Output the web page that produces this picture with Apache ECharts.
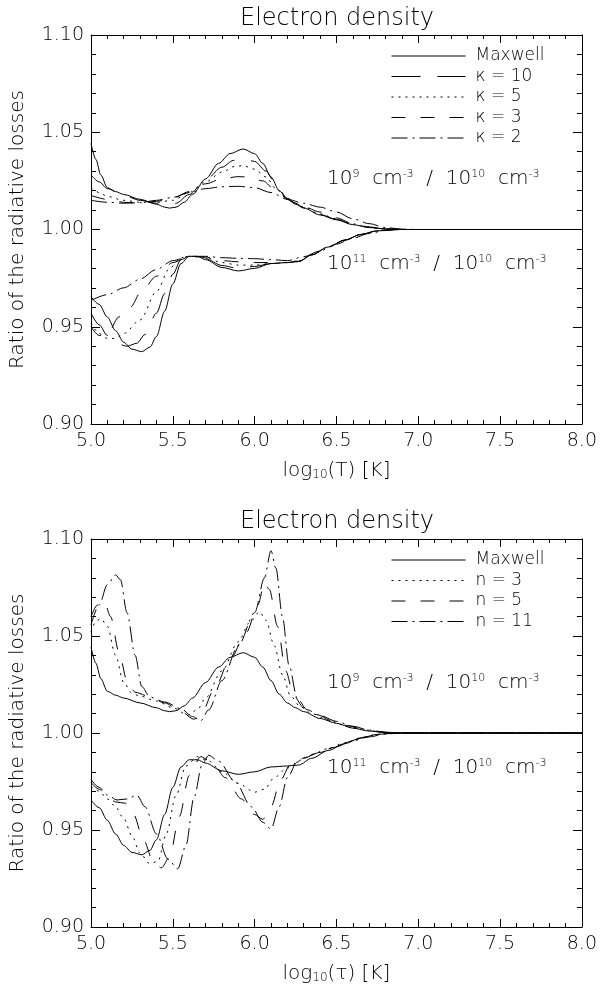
<!DOCTYPE html>
<html><head><meta charset="utf-8">
<script src="https://cdn.jsdelivr.net/npm/echarts@6/dist/echarts.min.js"></script>
<style>html,body{margin:0;padding:0;background:#fff}#c{width:600px;height:991px}</style>
</head><body><div id="c"></div>
<script>
// ---------------- DATA ----------------
const xRange = [5.0, 8.0];
const yRange = [0.90, 1.10];
const topTitle = 'Electron density';
const bottomTitle = 'Electron density';
const topLegend = ['Maxwell', 'κ = 10', 'κ = 5', 'κ = 3', 'κ = 2'];
const bottomLegend = ['Maxwell', 'n = 3', 'n = 5', 'n = 11'];

// Maxwell (same in both panels)
const maxwellHi = [[5.00,1.0443],[5.03,1.036],[5.06,1.028],[5.10,1.0215],[5.15,1.0195],[5.20,1.018],[5.30,1.0155],[5.40,1.013],[5.45,1.0115],[5.48,1.011],[5.52,1.0115],[5.57,1.014],[5.62,1.018],[5.70,1.026],[5.78,1.034],[5.85,1.039],[5.93,1.0414],[6.00,1.039],[6.05,1.034],[6.10,1.027],[6.15,1.020],[6.20,1.0155],[6.25,1.013],[6.30,1.011],[6.40,1.0075],[6.50,1.005],[6.60,1.0025],[6.70,1.001],[6.80,1.0003],[6.90,1.0],[8.00,1.0]];
const maxwellLo = [[5.00,0.9655],[5.05,0.9615],[5.10,0.955],[5.15,0.948],[5.20,0.942],[5.25,0.9385],[5.31,0.9372],[5.36,0.9395],[5.40,0.945],[5.45,0.958],[5.50,0.972],[5.55,0.9825],[5.60,0.9862],[5.65,0.9862],[5.70,0.9845],[5.80,0.9805],[5.90,0.9787],[6.00,0.980],[6.10,0.9825],[6.20,0.983],[6.27,0.9835],[6.35,0.987],[6.45,0.991],[6.55,0.9945],[6.65,0.9975],[6.75,0.9993],[6.85,1.0],[8.00,1.0]];

// Top panel: kappa distributions
const k10Hi = [[5.00,1.028],[5.05,1.0245],[5.10,1.021],[5.20,1.0175],[5.30,1.015],[5.40,1.0135],[5.47,1.013],[5.52,1.0135],[5.60,1.018],[5.70,1.0255],[5.80,1.032],[5.87,1.0355],[5.93,1.0366],[6.00,1.035],[6.07,1.030],[6.13,1.023],[6.20,1.016],[6.25,1.0135],[6.30,1.0112],[6.40,1.0077],[6.50,1.0052],[6.60,1.0027],[6.70,1.0011],[6.80,1.0003],[6.90,1.0],[8.00,1.0]];
const k5Hi = [[5.00,1.0215],[5.05,1.019],[5.10,1.017],[5.20,1.015],[5.30,1.014],[5.40,1.014],[5.50,1.015],[5.60,1.019],[5.70,1.0245],[5.80,1.0295],[5.88,1.0325],[5.93,1.0328],[6.00,1.031],[6.07,1.027],[6.13,1.021],[6.20,1.0155],[6.25,1.0135],[6.30,1.0115],[6.40,1.008],[6.50,1.0055],[6.60,1.0029],[6.70,1.0012],[6.80,1.0003],[6.90,1.0],[8.00,1.0]];
const k3Hi = [[5.00,1.0175],[5.10,1.0155],[5.20,1.014],[5.30,1.0135],[5.40,1.0145],[5.50,1.016],[5.60,1.0195],[5.70,1.0235],[5.80,1.026],[5.90,1.0272],[5.95,1.027],[6.05,1.025],[6.13,1.020],[6.20,1.016],[6.25,1.0135],[6.30,1.0117],[6.40,1.009],[6.50,1.006],[6.60,1.003],[6.70,1.0013],[6.80,1.0004],[6.90,1.0],[8.00,1.0]];
const k2Hi = [[5.00,1.0150],[5.10,1.014],[5.20,1.0135],[5.30,1.0138],[5.40,1.015],[5.50,1.0165],[5.60,1.019],[5.70,1.021],[5.80,1.022],[5.90,1.0222],[6.00,1.0215],[6.10,1.019],[6.20,1.0155],[6.30,1.0135],[6.40,1.0115],[6.50,1.009],[6.60,1.0055],[6.70,1.003],[6.80,1.001],[6.90,1.0002],[7.00,1.0],[8.00,1.0]];

const k10Lo = [[5.00,0.957],[5.05,0.951],[5.10,0.9455],[5.15,0.9415],[5.22,0.9400],[5.28,0.9415],[5.33,0.946],[5.40,0.957],[5.45,0.967],[5.50,0.977],[5.55,0.9845],[5.60,0.9862],[5.70,0.985],[5.80,0.9815],[5.90,0.9800],[6.00,0.981],[6.10,0.9825],[6.20,0.983],[6.27,0.9837],[6.35,0.987],[6.45,0.991],[6.55,0.9945],[6.65,0.9975],[6.75,0.9993],[6.85,1.0],[8.00,1.0]];
const k5Lo = [[5.00,0.952],[5.05,0.9465],[5.10,0.9440],[5.15,0.9440],[5.20,0.9465],[5.30,0.9535],[5.40,0.968],[5.48,0.980],[5.55,0.9855],[5.60,0.9862],[5.70,0.9855],[5.80,0.983],[5.90,0.9817],[6.00,0.9817],[6.10,0.9825],[6.20,0.983],[6.27,0.9838],[6.35,0.987],[6.45,0.991],[6.55,0.9945],[6.65,0.9975],[6.75,0.9993],[6.85,1.0],[8.00,1.0]];
const k3Lo = [[5.00,0.9500],[5.05,0.9455],[5.10,0.9460],[5.17,0.9550],[5.24,0.9600],[5.31,0.9685],[5.40,0.976],[5.50,0.983],[5.60,0.9862],[5.70,0.9858],[5.80,0.984],[5.90,0.9834],[6.00,0.983],[6.10,0.983],[6.20,0.983],[6.27,0.984],[6.35,0.987],[6.45,0.991],[6.55,0.9945],[6.65,0.9975],[6.75,0.9993],[6.85,1.0],[8.00,1.0]];
const k2Lo = [[5.00,0.9635],[5.10,0.9665],[5.20,0.9700],[5.30,0.9745],[5.40,0.9795],[5.50,0.9840],[5.60,0.9862],[5.70,0.9862],[5.80,0.9855],[5.90,0.9852],[6.00,0.985],[6.10,0.9845],[6.20,0.984],[6.30,0.986],[6.40,0.989],[6.50,0.9925],[6.60,0.9955],[6.70,0.998],[6.80,0.9995],[6.90,1.0],[8.00,1.0]];

// Bottom panel: n distributions
const n3Hi = [[5.00,1.0520],[5.03,1.0575],[5.06,1.059],[5.10,1.055],[5.15,1.040],[5.20,1.026],[5.25,1.0205],[5.30,1.019],[5.40,1.0165],[5.50,1.013],[5.59,1.0093],[5.65,1.012],[5.70,1.018],[5.80,1.032],[5.90,1.047],[5.97,1.057],[6.03,1.0625],[6.07,1.058],[6.12,1.045],[6.17,1.030],[6.22,1.019],[6.28,1.0135],[6.35,1.010],[6.45,1.0065],[6.55,1.004],[6.65,1.002],[6.75,1.0007],[6.85,1.0],[8.00,1.0]];
const n5Hi = [[5.00,1.0600],[5.04,1.0660],[5.08,1.0680],[5.12,1.060],[5.17,1.042],[5.22,1.027],[5.27,1.021],[5.35,1.019],[5.45,1.0155],[5.55,1.011],[5.63,1.0071],[5.68,1.011],[5.75,1.022],[5.85,1.038],[5.95,1.052],[6.02,1.066],[6.06,1.0775],[6.09,1.074],[6.14,1.055],[6.19,1.032],[6.24,1.019],[6.30,1.013],[6.38,1.0095],[6.48,1.006],[6.58,1.0035],[6.68,1.0015],[6.78,1.0004],[6.88,1.0],[8.00,1.0]];
const n11Hi = [[5.00,1.0557],[5.05,1.066],[5.10,1.0765],[5.15,1.0815],[5.18,1.079],[5.22,1.062],[5.27,1.040],[5.31,1.024],[5.36,1.0185],[5.45,1.016],[5.55,1.0125],[5.62,1.0085],[5.67,1.0062],[5.72,1.012],[5.80,1.027],[5.90,1.045],[6.00,1.062],[6.06,1.080],[6.10,1.094],[6.13,1.085],[6.17,1.060],[6.21,1.035],[6.26,1.018],[6.32,1.012],[6.40,1.009],[6.50,1.006],[6.60,1.0035],[6.70,1.0015],[6.80,1.0004],[6.90,1.0],[8.00,1.0]];

const n3Lo = [[5.00,0.9725],[5.05,0.970],[5.10,0.966],[5.15,0.962],[5.20,0.956],[5.25,0.947],[5.30,0.938],[5.36,0.9325],[5.41,0.934],[5.46,0.948],[5.52,0.968],[5.58,0.983],[5.65,0.9878],[5.72,0.9855],[5.80,0.980],[5.90,0.974],[6.00,0.9695],[6.06,0.971],[6.12,0.977],[6.20,0.982],[6.28,0.986],[6.35,0.989],[6.45,0.992],[6.55,0.995],[6.65,0.9975],[6.75,0.9993],[6.85,1.0],[8.00,1.0]];
const n5Lo = [[5.00,0.9745],[5.05,0.971],[5.10,0.967],[5.15,0.9645],[5.21,0.9638],[5.26,0.958],[5.32,0.945],[5.38,0.934],[5.43,0.9305],[5.48,0.936],[5.54,0.957],[5.60,0.978],[5.67,0.9878],[5.74,0.985],[5.82,0.977],[5.92,0.966],[6.00,0.958],[6.05,0.9555],[6.10,0.962],[6.16,0.976],[6.22,0.984],[6.30,0.987],[6.38,0.9895],[6.48,0.9925],[6.58,0.9955],[6.68,0.998],[6.78,0.9995],[6.88,1.0],[8.00,1.0]];
const n11Lo = [[5.00,0.9760],[5.05,0.972],[5.10,0.968],[5.16,0.9655],[5.22,0.966],[5.28,0.968],[5.33,0.962],[5.40,0.948],[5.47,0.935],[5.53,0.930],[5.58,0.942],[5.63,0.967],[5.68,0.984],[5.72,0.9885],[5.78,0.9855],[5.88,0.975],[5.98,0.962],[6.05,0.954],[6.10,0.9505],[6.15,0.962],[6.20,0.977],[6.26,0.985],[6.32,0.988],[6.40,0.990],[6.50,0.993],[6.60,0.996],[6.70,0.998],[6.80,0.9995],[6.90,1.0],[8.00,1.0]];

// ---------------- STYLE ----------------
const FONT = 'DejaVu Sans';
const FW = 200;
const DASH = {
  solid: 'solid',
  longDash: [29, 17],
  dot: [2, 5],
  dash: [14, 15],
  dashDot: [16, 5, 2, 5]
};

const chart = echarts.init(document.getElementById('c'), null, {renderer: 'canvas'});

const grids = [
  {left: 89, top: 35, width: 494, height: 389},
  {left: 89, top: 539, width: 494, height: 388}
];

function xAxes(gi, name) {
  const base = {
    type: 'value', gridIndex: gi, min: xRange[0], max: xRange[1], interval: 0.5,
    axisLine: {show: true, onZero: false, lineStyle: {color: '#000', width: 1}},
    axisTick: {show: true, inside: true, length: 8, lineStyle: {color: '#000', width: 1}},
    minorTick: {show: true, splitNumber: 5, length: 4, lineStyle: {color: '#000', width: 1}},
    splitLine: {show: false}, minorSplitLine: {show: false}
  };
  return [
    Object.assign({}, base, {
      position: 'bottom',
      axisLabel: {color: '#000', fontSize: 19, fontFamily: FONT, fontWeight: FW, margin: 8,
        formatter: v => v.toFixed(1)},
      name: name, nameLocation: 'middle', nameGap: 37,
      nameTextStyle: {color: '#000', fontSize: 20, fontFamily: FONT, fontWeight: FW,
        rich: {sub: {fontSize: 12, fontFamily: FONT, fontWeight: FW, color: '#000', verticalAlign: 'bottom', padding: [7, 0, 0, 0]}}}
    }),
    Object.assign({}, base, {position: 'top', axisLabel: {show: false}})
  ];
}
function yAxes(gi) {
  const base = {
    type: 'value', gridIndex: gi, min: yRange[0], max: yRange[1], interval: 0.05,
    axisLine: {show: true, onZero: false, lineStyle: {color: '#000', width: 1}},
    axisTick: {show: true, inside: true, length: 9, lineStyle: {color: '#000', width: 1}},
    minorTick: {show: true, splitNumber: 5, length: 5, lineStyle: {color: '#000', width: 1}},
    splitLine: {show: false}, minorSplitLine: {show: false}
  };
  return [
    Object.assign({}, base, {
      position: 'left',
      axisLabel: {color: '#000', fontSize: 19, fontFamily: FONT, fontWeight: FW, margin: 7,
        formatter: v => v.toFixed(2)},
      name: 'Ratio of the radiative losses', nameLocation: 'middle', nameGap: 63,
      nameTextStyle: {color: '#000', fontSize: 20, fontFamily: FONT, fontWeight: FW}
    }),
    Object.assign({}, base, {position: 'right', axisLabel: {show: false}})
  ];
}

function ser(name, data, type, xi, yi) {
  return {
    type: 'line', name: name, data: data, xAxisIndex: xi, yAxisIndex: yi,
    symbol: 'none', smooth: 0.3, smoothMonotone: 'x', animation: false, silent: true,
    lineStyle: {color: '#000', width: 1, type: type}, itemStyle: {color: '#000'}
  };
}

const series = [
  ser(topLegend[0], maxwellHi, DASH.solid, 0, 0),
  ser(topLegend[0], maxwellLo, DASH.solid, 0, 0),
  ser(topLegend[1], k10Hi, DASH.longDash, 0, 0),
  ser(topLegend[1], k10Lo, DASH.longDash, 0, 0),
  ser(topLegend[2], k5Hi, DASH.dot, 0, 0),
  ser(topLegend[2], k5Lo, DASH.dot, 0, 0),
  ser(topLegend[3], k3Hi, DASH.dash, 0, 0),
  ser(topLegend[3], k3Lo, DASH.dash, 0, 0),
  ser(topLegend[4], k2Hi, DASH.dashDot, 0, 0),
  ser(topLegend[4], k2Lo, DASH.dashDot, 0, 0),

  ser(bottomLegend[0], maxwellHi, DASH.solid, 2, 2),
  ser(bottomLegend[0], maxwellLo, DASH.solid, 2, 2),
  ser(bottomLegend[1], n3Hi, DASH.dot, 2, 2),
  ser(bottomLegend[1], n3Lo, DASH.dot, 2, 2),
  ser(bottomLegend[2], n5Hi, DASH.dash, 2, 2),
  ser(bottomLegend[2], n5Lo, DASH.dash, 2, 2),
  ser(bottomLegend[3], n11Hi, DASH.dashDot, 2, 2),
  ser(bottomLegend[3], n11Lo, DASH.dashDot, 2, 2)
];

const legendCommon = {
  orient: 'vertical', left: 391, itemWidth: 74, itemHeight: 12, itemGap: 2.5,
  selectedMode: false, padding: 0,
  itemStyle: {opacity: 0, borderWidth: 0},
  lineStyle: {width: 1, color: '#000'},
  formatter: n => '{t|' + n + '}',
  textStyle: {color: '#000', fontSize: 17, fontFamily: FONT, fontWeight: FW, lineHeight: 18,
    rich: {t: {fontSize: 17, fontFamily: FONT, fontWeight: FW, color: '#000', lineHeight: 18, padding: [0, 0, 0, 5]}}}
};

const richSup = {
  s: {fontSize: 11, fontFamily: FONT, fontWeight: FW, fill: '#000', verticalAlign: 'top', lineHeight: 11}
};
function annot(y, txt) {
  return {
    type: 'text', left: 327, top: y - 11, silent: true,
    style: {text: txt, fill: '#000', font: FW + ' 20px "' + FONT + '"', rich: richSup}
  };
}
function titleText(y, txt) {
  return {
    type: 'text', x: 337, y: y, silent: true,
    style: {text: txt, fill: '#000', font: FW + ' 24px "' + FONT + '"', align: 'center', verticalAlign: 'middle'}
  };
}

const option = {
  backgroundColor: '#fff',
  animation: false,
  grid: grids,
  xAxis: xAxes(0, 'log{sub|10}(T) [K]').concat(xAxes(1, 'log{sub|10}(τ) [K]')),
  yAxis: yAxes(0).concat(yAxes(1)),
  legend: [
    Object.assign({}, legendCommon, {top: 47, data: topLegend}),
    Object.assign({}, legendCommon, {top: 551, data: bottomLegend})
  ],
  graphic: [
    titleText(19, topTitle),
    titleText(522, bottomTitle),
    annot(180, '10{s|9}  cm{s|-3}  /  10{s|10}  cm{s|-3}'),
    annot(265, '10{s|11}  cm{s|-3}  /  10{s|10}  cm{s|-3}'),
    annot(684, '10{s|9}  cm{s|-3}  /  10{s|10}  cm{s|-3}'),
    annot(769, '10{s|11}  cm{s|-3}  /  10{s|10}  cm{s|-3}')
  ],
  series: series
};
chart.setOption(option);
</script>
</body></html>
